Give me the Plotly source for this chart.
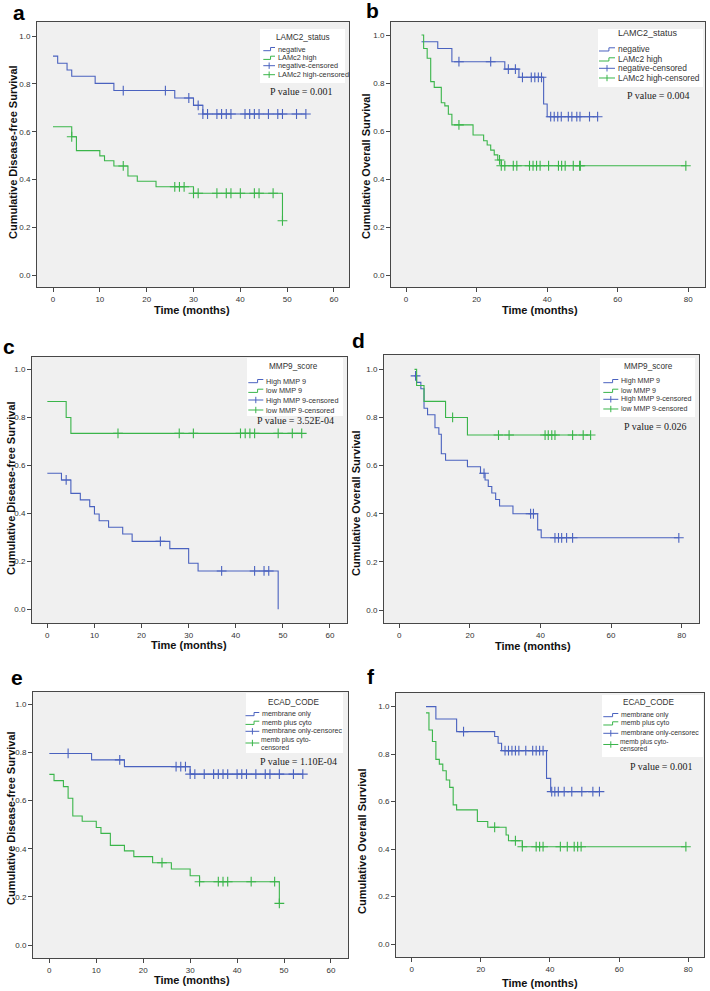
import plotly.graph_objects as go

W, H = 710, 991

# ------------------------------------------------------------------ data
# Panel a : Disease-free survival by LAMC2 status
A_NEG_START = [0, 0.916]
A_NEG_EVENT_T = [1, 3, 4, 9, 13, 26, 30, 32]
A_NEG_SURV = [0.886, 0.858, 0.832, 0.802, 0.772, 0.741, 0.710, 0.674]
A_NEG_CENS = [15, 24, 29, 31, 32, 33, 35, 36, 37, 38, 41, 42, 43, 44, 46, 48, 49, 52, 54]
A_HIGH_START = [0, 0.621]
A_HIGH_EVENT_T = [4, 5, 10, 11, 13, 16, 18, 22, 30, 49]
A_HIGH_SURV = [0.579, 0.521, 0.499, 0.479, 0.457, 0.415, 0.393, 0.370, 0.343, 0.228]
A_HIGH_CENS = [4, 15, 26, 27, 28, 30, 31, 35, 37, 38, 40, 43, 44, 47, 49]

# Panel b : Overall survival by LAMC2 status
B_NEG_START = [4.4, 0.972]
B_NEG_EVENT_T = [9, 13, 28, 32, 39, 40]
B_NEG_SURV = [0.944, 0.889, 0.858, 0.824, 0.713, 0.660]
B_NEG_CENS = [15, 24, 29, 31, 33, 35.5, 36.5, 37.5, 38.4, 41, 42, 43, 44, 46, 47, 48.4, 49.3, 52, 54.3]
B_HIGH_START = [4.4, 1.0]
B_HIGH_EVENT_T = [5, 6, 7, 8, 10, 11, 12, 13, 19, 22, 23, 24, 25, 26, 27]
B_HIGH_SURV = [0.944, 0.903, 0.806, 0.782, 0.718, 0.705, 0.670, 0.626, 0.584, 0.560,
               0.542, 0.521, 0.501, 0.480, 0.456]
B_HIGH_CENS = [15, 26.5, 27, 28, 30.4, 31.4, 35, 36, 37, 38, 40.4, 43.2, 44.1, 45.1, 47.4, 49.2, 49.4, 79.3]

# Panel c : Disease-free survival by MMP9 score
C_HIGH_START = [0, 0.567]
C_HIGH_EVENT_T = [3, 5, 7, 9, 10, 11, 13, 16, 18, 26, 30, 32, 49]
C_HIGH_SURV = [0.539, 0.483, 0.456, 0.428, 0.397, 0.369, 0.342, 0.314, 0.283, 0.253, 0.192, 0.160, 0.0]
C_HIGH_CENS = [4, 24, 37, 44, 46, 47]
C_LOW_START = [0, 0.866]
C_LOW_EVENT_T = [4, 5]
C_LOW_SURV = [0.799, 0.733]
C_LOW_CENS = [15, 28, 31, 41, 42, 43, 44, 49, 52, 54]

# Panel d : Overall survival by MMP9 score
D_HIGH_START = [4.3, 0.973]
D_HIGH_EVENT_T = [4.9, 6.1, 7, 8, 10.1, 11.2, 11.9, 13.1, 19.3, 23, 24.3, 25.2, 26.2, 27.3, 28.4, 32.2, 39.2, 40.2]
D_HIGH_SURV = [0.946, 0.919, 0.838, 0.811, 0.757, 0.730, 0.649, 0.622, 0.595, 0.568,
               0.540, 0.513, 0.486, 0.459, 0.432, 0.400, 0.333, 0.300]
D_HIGH_CENS = [4.6, 24, 37.2, 38, 44.1, 45.1, 46, 47.4, 49.1, 79.2]
D_LOW_START = [4.3, 1.0]
D_LOW_EVENT_T = [4.9, 7, 13.1, 19.3]
D_LOW_SURV = [0.933, 0.867, 0.800, 0.727]
D_LOW_CENS = [15.1, 28.1, 31.1, 41.3, 42.2, 43.2, 44.1, 49.1, 52.1, 54.2]

# Panel e : Disease-free survival by E-cadherin pattern
E_MEM_START = [0, 0.796]
E_MEM_EVENT_T = [9, 16, 30]
E_MEM_SURV = [0.769, 0.741, 0.710]
E_MEM_CENS = [4, 15, 27, 28, 29, 30, 31, 33, 35, 36, 37, 38, 40, 41, 42, 44, 46, 47, 49, 52, 54]
E_CYT_START = [0, 0.709]
E_CYT_EVENT_T = [1, 3, 4, 5, 7, 10, 11, 13, 16, 18, 22, 26, 30, 32, 49]
E_CYT_SURV = [0.683, 0.658, 0.610, 0.536, 0.514, 0.488, 0.464, 0.414, 0.391, 0.367,
              0.342, 0.316, 0.288, 0.263, 0.173]
E_CYT_CENS = [24, 32, 36, 37, 38, 43, 48, 49]

# Panel f : Overall survival by E-cadherin pattern
F_MEM_START = [4.15, 1.0]
F_MEM_EVENT_T = [7, 13, 24, 25, 26, 39, 40.2]
F_MEM_SURV = [0.948, 0.895, 0.874, 0.846, 0.815, 0.698, 0.642]
F_MEM_CENS = [15, 27, 28, 29, 30, 31, 33, 35, 36, 37, 38, 40.5, 41.4, 42.4, 44.1, 46.3, 49.2, 52.4, 54.3]
F_CYT_START = [4.15, 0.974]
F_CYT_EVENT_T = [5, 6, 7, 8, 9, 10, 11, 12, 13, 19, 22, 27.3, 28, 32]
F_CYT_SURV = [0.902, 0.853, 0.778, 0.758, 0.730, 0.691, 0.660, 0.586, 0.565, 0.516,
              0.492, 0.459, 0.435, 0.410]
F_CYT_CENS = [24, 30, 32, 36, 37, 38, 43, 45, 47, 48, 49, 79.3]

P_VALUES = ["0.001", "0.004", "3.52E-04", "0.026", "1.10E-04", "0.001"]
LEGEND_TITLES = ["LAMC2_status", "LAMC2_status", "MMP9_score", "MMP9_score", "ECAD_CODE", "ECAD_CODE"]
LEGEND_LABELS = [
    ["negative", "LAMc2 high", "negative-censored", "LAMc2 high-censored"],
    ["negative", "LAMc2 high", "negative-censored", "LAMc2 high-censored"],
    ["High MMP 9", "low MMP 9", "High MMP 9-censored", "low MMP 9-censored"],
    ["High MMP 9", "low MMP 9", "High MMP 9-censored", "low MMP 9-censored"],
    ["membrane only", "memb plus cyto", "membrane only-censorec", "memb plus cyto-|censored"],
    ["membrane only", "memb plus cyto", "membrane only-censorec", "memb plus cyto-|censored"],
]
Y_TITLES = ["Cumulative Disease-free Survival", "Cumulative Overall Survival"] * 3
X_TITLE = "Time (months)"
PANEL_LETTERS = ["a", "b", "c", "d", "e", "f"]

BLUE = "#4a62bf"
GREEN = "#3ab54a"

CURVES = [
    [(A_NEG_START, A_NEG_EVENT_T, A_NEG_SURV, A_NEG_CENS, BLUE),
     (A_HIGH_START, A_HIGH_EVENT_T, A_HIGH_SURV, A_HIGH_CENS, GREEN)],
    [(B_NEG_START, B_NEG_EVENT_T, B_NEG_SURV, B_NEG_CENS, BLUE),
     (B_HIGH_START, B_HIGH_EVENT_T, B_HIGH_SURV, B_HIGH_CENS, GREEN)],
    [(C_HIGH_START, C_HIGH_EVENT_T, C_HIGH_SURV, C_HIGH_CENS, BLUE),
     (C_LOW_START, C_LOW_EVENT_T, C_LOW_SURV, C_LOW_CENS, GREEN)],
    [(D_HIGH_START, D_HIGH_EVENT_T, D_HIGH_SURV, D_HIGH_CENS, BLUE),
     (D_LOW_START, D_LOW_EVENT_T, D_LOW_SURV, D_LOW_CENS, GREEN)],
    [(E_MEM_START, E_MEM_EVENT_T, E_MEM_SURV, E_MEM_CENS, BLUE),
     (E_CYT_START, E_CYT_EVENT_T, E_CYT_SURV, E_CYT_CENS, GREEN)],
    [(F_MEM_START, F_MEM_EVENT_T, F_MEM_SURV, F_MEM_CENS, BLUE),
     (F_CYT_START, F_CYT_EVENT_T, F_CYT_SURV, F_CYT_CENS, GREEN)],
]

# ------------------------------------------------------------------ layout (pixel geometry)
# frame (l, t, r, b), x-calibration (px of t=0, px per month), y-calibration (px of 1.0, px of 0.0)
PANELS = [
    dict(frame=(37, 22, 349, 287), xcal=(53, 4.683), ycal=(36, 275.33), xmax=60, xstep=10,
         ytitle=(13, 152), xtitle=(192, 310), letter=(19, 13),
         box=(260, 29, 345, 83), ltitle=(302.5, 37), entries=[49, 57.7, 65.7, 74.7],
         glyph=(263.3, 275), textx=275.5, pval=(301, 91), lfs=7.3, tfs=8.2),
    dict(frame=(391, 22, 705, 287), xcal=(406, 3.529), ycal=(35, 275.33), xmax=80, xstep=20,
         ytitle=(366, 166), xtitle=(540, 310), letter=(372, 10),
         box=(598, 29, 703, 87), ltitle=(648, 33.5), entries=[49.3, 59.3, 68.3, 78],
         glyph=(599, 615), textx=615.5, pval=(658, 96), lfs=8.4, tfs=9),
    dict(frame=(32, 357, 347, 623), xcal=(47.33, 4.711), ycal=(369.33, 609.33), xmax=60, xstep=10,
         ytitle=(11, 488), xtitle=(189, 645), letter=(9, 346),
         box=(247, 358, 343, 416), ltitle=(293, 366.7), entries=[381, 390.7, 400, 410],
         glyph=(248.3, 263.3), textx=263.5, pval=(295, 420.7), lfs=7.3, tfs=8.2),
    dict(frame=(384, 355, 699, 623), xcal=(399.33, 3.529), ycal=(369.33, 610), xmax=80, xstep=20,
         ytitle=(356, 503), xtitle=(533, 646), letter=(358, 340),
         box=(600, 358, 695, 417), ltitle=(648, 366.7), entries=[381, 390.7, 399.3, 409],
         glyph=(603.3, 618.3), textx=618.5, pval=(655, 426), lfs=7.1, tfs=8.2),
    dict(frame=(33, 692, 348, 958), xcal=(49.33, 4.694), ycal=(704.33, 945), xmax=60, xstep=10,
         ytitle=(11, 818), xtitle=(192, 980), letter=(17, 677),
         box=(246, 693, 343, 753), ltitle=(293, 702.3), entries=[714, 722.7, 731.3, 743],
         glyph=(245.5, 259.3), textx=259.5, pval=(298, 761), lfs=7.1, tfs=8.2),
    dict(frame=(396, 693, 704, 957), xcal=(411.67, 3.458), ycal=(706.67, 944), xmax=80, xstep=20,
         ytitle=(362, 841), xtitle=(540, 983), letter=(371, 676),
         box=(602, 695, 703, 757), ltitle=(648, 702.7), entries=[715, 723.3, 733.3, 744.5],
         glyph=(603.3, 618.3), textx=618.5, pval=(661.7, 766.7), lfs=6.9, tfs=8.2),
]

SANS = "Liberation Sans, Arial, sans-serif"
SERIF = "Liberation Serif, Times New Roman, serif"
FRAME = "#474747"


def X(px):
    return px / W


def Y(py):
    return 1 - py / H


def step_value(start, ev_t, surv, t):
    s = start[1]
    for te, sv in zip(ev_t, surv):
        if te <= t:
            s = sv
    return s


fig = go.Figure()
shapes = []
annotations = []

for i, (panel, curves) in enumerate(zip(PANELS, CURVES)):
    n = "" if i == 0 else str(i + 1)
    xa, ya = "x" + n, "y" + n
    l, t, r, b = panel["frame"]
    x0px, kx = panel["xcal"]
    y1px, y0px = panel["ycal"]
    ky = y0px - y1px
    xr = [(l - x0px) / kx, (r - x0px) / kx]
    yr = [(y0px - b) / ky, (y0px - t) / ky]

    for start, ev_t, surv, cens, col in curves:
        t_end = max(list(ev_t) + list(cens))
        xs = [start[0]] + list(ev_t) + [t_end]
        ys = [start[1]] + list(surv) + [surv[-1]]
        fig.add_trace(go.Scatter(x=xs, y=ys, mode="lines", line=dict(color=col, width=1.1, shape="hv"),
                                 xaxis=xa, yaxis=ya, showlegend=False, hoverinfo="skip"))
        cy = [step_value(start, ev_t, surv, c) for c in cens]
        fig.add_trace(go.Scatter(x=cens, y=cy, mode="markers",
                                 marker=dict(symbol="cross-thin", size=7, line=dict(width=1.1, color=col)),
                                 xaxis=xa, yaxis=ya, showlegend=False, hoverinfo="skip"))

    axis_common = dict(showline=True, mirror=True, linecolor=FRAME, linewidth=1, ticks="outside",
                       ticklen=4, tickcolor=FRAME, showgrid=False, zeroline=False,
                       tickfont=dict(family=SANS, size=8, color="#333333"))
    fig.layout["xaxis" + n] = dict(domain=[X(l), X(r)], range=xr, anchor=ya,
                                   tickvals=list(range(0, panel["xmax"] + 1, panel["xstep"])),
                                   **axis_common)
    fig.layout["yaxis" + n] = dict(domain=[Y(b), Y(t)], range=yr, anchor=xa,
                                   tickvals=[0, 0.2, 0.4, 0.6, 0.8, 1.0], tickformat=".1f",
                                   **axis_common)

    # axis titles and panel letter
    annotations.append(dict(x=X(panel["ytitle"][0]), y=Y(panel["ytitle"][1]), xref="paper", yref="paper",
                            text="<b>%s</b>" % Y_TITLES[i], textangle=-90, showarrow=False,
                            font=dict(family=SANS, size=11, color="#111111"),
                            xanchor="center", yanchor="middle"))
    annotations.append(dict(x=X(panel["xtitle"][0]), y=Y(panel["xtitle"][1]), xref="paper", yref="paper",
                            text="<b>%s</b>" % X_TITLE, showarrow=False,
                            font=dict(family=SANS, size=11, color="#111111"),
                            xanchor="center", yanchor="middle"))
    annotations.append(dict(x=X(panel["letter"][0]), y=Y(panel["letter"][1]), xref="paper", yref="paper",
                            text="<b>%s</b>" % PANEL_LETTERS[i], showarrow=False,
                            font=dict(family=SANS, size=21, color="#000000"),
                            xanchor="center", yanchor="middle"))

    # legend box
    bl, bt, br, bb = panel["box"]
    shapes.append(dict(type="rect", xref="paper", yref="paper", x0=X(bl), x1=X(br), y0=Y(bb), y1=Y(bt),
                       fillcolor="white", line=dict(width=0), layer="above"))
    annotations.append(dict(x=X(panel["ltitle"][0]), y=Y(panel["ltitle"][1]), xref="paper", yref="paper",
                            text=LEGEND_TITLES[i], showarrow=False,
                            font=dict(family=SANS, size=panel["tfs"], color="#333333"),
                            xanchor="center", yanchor="middle"))
    gx0, gx1 = panel["glyph"]
    gm = gx0 + 0.62 * (gx1 - gx0)
    cols = [curves[0][4], curves[1][4], curves[0][4], curves[1][4]]
    for k, (ey, lab) in enumerate(zip(panel["entries"], LEGEND_LABELS[i])):
        col = cols[k]
        if k < 2:
            path = "M %f,%f L %f,%f L %f,%f L %f,%f" % (X(gx0), Y(ey + 1.7), X(gm), Y(ey + 1.7),
                                                      X(gm), Y(ey - 1.5), X(gx1), Y(ey - 1.5))
        else:
            gc = (gx0 + gx1) / 2
            path = "M %f,%f L %f,%f M %f,%f L %f,%f" % (X(gx0), Y(ey), X(gx1), Y(ey),
                                                      X(gc), Y(ey - 3.2), X(gc), Y(ey + 3.2))
        shapes.append(dict(type="path", xref="paper", yref="paper", path=path,
                           line=dict(color=col, width=1), layer="above"))
        parts = lab.split("|")
        if len(parts) == 1:
            annotations.append(dict(x=X(panel["textx"]), y=Y(ey), xref="paper", yref="paper",
                                    text=lab, showarrow=False,
                                    font=dict(family=SANS, size=panel["lfs"], color="#333333"),
                                    xanchor="left", yanchor="middle"))
        else:
            for j, p in enumerate(parts):
                annotations.append(dict(x=X(panel["textx"]), y=Y(ey - 3.0 + 7.0 * j), xref="paper",
                                        yref="paper", text=p, showarrow=False,
                                        font=dict(family=SANS, size=panel["lfs"] - 0.3, color="#333333"),
                                        xanchor="left", yanchor="middle", borderpad=0))

    annotations.append(dict(x=X(panel["pval"][0]), y=Y(panel["pval"][1]), xref="paper", yref="paper",
                            text="P value = %s" % P_VALUES[i], showarrow=False,
                            font=dict(family=SERIF, size=10, color="#222222"),
                            xanchor="center", yanchor="middle"))

fig.update_layout(width=W, height=H, margin=dict(l=0, r=0, t=0, b=0),
                  paper_bgcolor="white", plot_bgcolor="#f0f0f0",
                  shapes=shapes, annotations=annotations, showlegend=False)

fig.write_html("out.html", config={"displayModeBar": False},
               post_script="document.body.style.margin='0';document.body.style.overflow='hidden';")
